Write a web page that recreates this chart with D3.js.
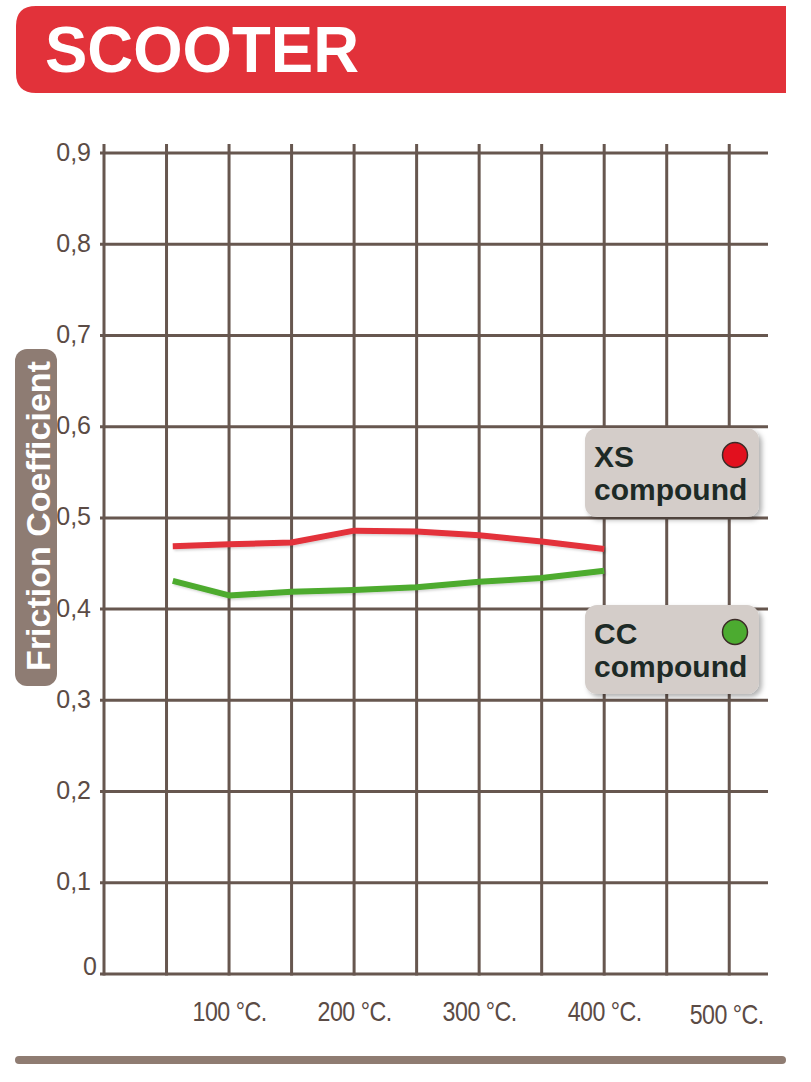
<!DOCTYPE html>
<html>
<head>
<meta charset="utf-8">
<script src="https://cdn.jsdelivr.net/npm/d3@7/dist/d3.min.js"></script>
<style>
  html, body { margin: 0; padding: 0; background: #ffffff; }
  svg { display: block; }
</style>
</head>
<body>
<svg id="chart" width="811" height="1082"></svg>
<script>
// ---- data ----
const title = "SCOOTER";
const yTitle = "Friction Coefficient";
const temps = [55, 100, 150, 200, 250, 300, 350, 400];
const xsValues = [0.469, 0.471, 0.473, 0.486, 0.485, 0.481, 0.474, 0.466];
const ccValues = [0.431, 0.415, 0.419, 0.421, 0.424, 0.430, 0.434, 0.442];
const yTicks = [0, 0.1, 0.2, 0.3, 0.4, 0.5, 0.6, 0.7, 0.8, 0.9];
const yTickLabels = ["0", "0,1", "0,2", "0,3", "0,4", "0,5", "0,6", "0,7", "0,8", "0,9"];
const xGrid = [0, 50, 100, 150, 200, 250, 300, 350, 400, 450, 500];
const xTicks = [100, 200, 300, 400, 500];
const xTickLabels = ["100 °C.", "200 °C.", "300 °C.", "400 °C.", "500 °C."];
const seriesNames = ["XS", "CC"];
const seriesColors = ["#e3323b", "#4dab2f"];
const dotColors = ["#e2101e", "#4cab30"];

// ---- layout ----
const svg = d3.select("#chart");
const gridColor = "#67574f";
const x = d3.scaleLinear().domain([0, 531]).range([104, 768]);
const y = d3.scaleLinear().domain([0, 0.9]).range([974, 153]);

const defs = svg.append("defs");
const sh = defs.append("filter").attr("id", "boxShadow").attr("x", "-20%").attr("y", "-20%").attr("width", "150%").attr("height", "150%");
sh.append("feDropShadow").attr("dx", 3).attr("dy", 3).attr("stdDeviation", 2.5).attr("flood-color", "#000").attr("flood-opacity", 0.3);
const lsh = defs.append("filter").attr("id", "lineShadow").attr("x", "-5%").attr("y", "-50%").attr("width", "110%").attr("height", "200%");
lsh.append("feDropShadow").attr("dx", 1.5).attr("dy", 1.5).attr("stdDeviation", 1.2).attr("flood-color", "#000").attr("flood-opacity", 0.18);

// header
const hx0 = 16, hx1 = 786, hy0 = 6, hy1 = 93, hr = 20;
svg.append("path")
  .attr("d", `M${hx0 + hr},${hy0} H${hx1} V${hy1} H${hx0 + hr} Q${hx0},${hy1} ${hx0},${hy1 - hr} V${hy0 + hr} Q${hx0},${hy0} ${hx0 + hr},${hy0} Z`)
  .attr("fill", "#e2323a");
svg.append("text")
  .attr("x", 45).attr("y", 72)
  .attr("font-family", "Liberation Sans, Arial, sans-serif")
  .attr("font-weight", "bold").attr("font-size", 64)
  .attr("textLength", 314).attr("lengthAdjust", "spacingAndGlyphs")
  .attr("fill", "#ffffff")
  .text(title);

// grid
const grid = svg.append("g");
grid.selectAll("line.h").data(yTicks).join("line")
  .attr("x1", 100).attr("x2", 768)
  .attr("y1", d => y(d)).attr("y2", d => y(d))
  .attr("stroke", gridColor).attr("stroke-width", 3);
grid.selectAll("line.v").data(xGrid).join("line")
  .attr("x1", d => x(d)).attr("x2", d => x(d))
  .attr("y1", 144).attr("y2", y(0) + 1.5)
  .attr("stroke", gridColor).attr("stroke-width", 3);

// y axis labels
const yAxis = d3.axisLeft(y).tickValues(yTicks)
  .tickFormat((d, i) => yTickLabels[i]).tickSize(0).tickPadding(13);
const gy = svg.append("g").attr("transform", "translate(104,0)").call(yAxis);
gy.select(".domain").remove();
gy.selectAll("text")
  .attr("font-family", "Liberation Sans, Arial, sans-serif")
  .attr("font-size", 25).attr("fill", "#5b4b45")
  .attr("dy", "0.28em");
gy.selectAll(".tick").filter(d => d === 0).select("text").attr("dx", 6).attr("dy", "0.0em");

// x axis labels
const xAxis = d3.axisBottom(x).tickValues(xTicks)
  .tickFormat((d, i) => xTickLabels[i]).tickSize(0).tickPadding(28);
const gx = svg.append("g").attr("transform", `translate(0,${y(0)})`).call(xAxis);
gx.select(".domain").remove();
gx.selectAll("text")
  .attr("font-family", "Liberation Sans, Arial, sans-serif")
  .attr("font-size", 27).attr("fill", "#5b4b45").attr("letter-spacing", -0.6)
  .attr("transform", "scale(0.86,1)");
gx.selectAll(".tick").filter(d => d === 500).select("text").attr("transform", "translate(-3,3) scale(0.86,1)");

// y title pill
svg.append("rect").attr("x", 15).attr("y", 349).attr("width", 42).attr("height", 337)
  .attr("rx", 12).attr("fill", "#8e7c73");
svg.append("text")
  .attr("transform", "translate(50,516) rotate(-90)")
  .attr("text-anchor", "middle")
  .attr("font-family", "Liberation Sans, Arial, sans-serif")
  .attr("font-weight", "bold").attr("font-size", 34)
  .attr("fill", "#ffffff")
  .text(yTitle);

// lines
const line = d3.line().x((d, i) => x(temps[i])).y(d => y(d)).curve(d3.curveLinear);
[xsValues, ccValues].forEach((vals, k) => {
  svg.append("path").datum(vals)
    .attr("d", line)
    .attr("fill", "none")
    .attr("stroke", seriesColors[k])
    .attr("stroke-width", 6)
    .attr("stroke-linejoin", "round")
    .attr("filter", "url(#lineShadow)");
});

// legend boxes
const legendTops = [428, 605];
seriesNames.forEach((name, k) => {
  const g = svg.append("g").attr("transform", `translate(585,${legendTops[k]})`);
  g.append("rect").attr("width", 174).attr("height", 89).attr("rx", 12)
    .attr("fill", "#d4cdc9").attr("filter", "url(#boxShadow)");
  g.append("text").attr("x", 9).attr("y", 39)
    .attr("font-family", "Liberation Sans, Arial, sans-serif")
    .attr("font-weight", "bold").attr("font-size", 30).attr("fill", "#1d2a26")
    .text(name);
  g.append("text").attr("x", 9).attr("y", 72)
    .attr("font-family", "Liberation Sans, Arial, sans-serif")
    .attr("font-weight", "bold").attr("font-size", 30).attr("fill", "#1d2a26")
    .text("compound");
  g.append("circle").attr("cx", 150).attr("cy", 27).attr("r", 12.5)
    .attr("fill", dotColors[k]).attr("stroke", "#3b2b27").attr("stroke-width", 1.5);
});

// bottom bar
svg.append("line").attr("x1", 19).attr("x2", 782).attr("y1", 1060).attr("y2", 1060)
  .attr("stroke", "#8f7c72").attr("stroke-width", 8).attr("stroke-linecap", "round");
</script>
</body>
</html>
